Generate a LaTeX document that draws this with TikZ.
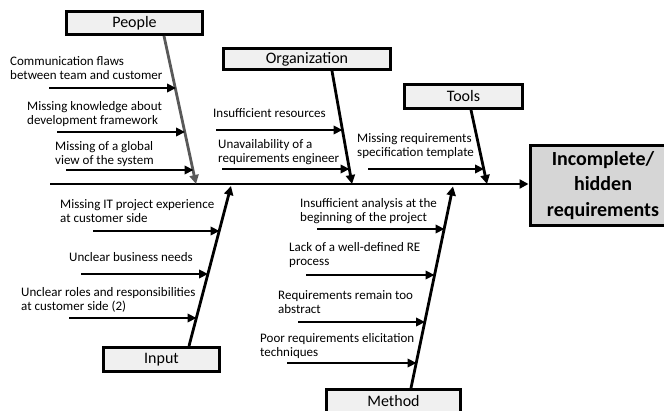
\documentclass[tikz,border=0pt]{standalone}
\usepackage{fontspec}
\setmainfont{Carlito}
\usetikzlibrary{arrows.meta}
\begin{document}
\begin{tikzpicture}
[x=1pt,y=-1pt,
 catbox/.style={draw,line width=3pt,fill=black!6,inner sep=0pt,font=\fontsize{16}{19}\selectfont},
 effect/.style={draw,line width=3pt,fill=black!16,align=center,inner sep=0pt,minimum width=146pt,minimum height=80pt,font=\fontsize{20}{25.5}\selectfont\bfseries},
 bone/.style={line width=2.8pt,-{Triangle[length=9pt,width=9pt]}},
 cause/.style={line width=2.8pt,-{Triangle[length=9pt,width=8.5pt]}},
 causetext/.style={anchor=north west,inner sep=0pt,align=left,font=\fontsize{13}{14}\selectfont}]
\useasboundingbox (0,0) rectangle (664,411);
% category boxes and effect
\node[catbox,minimum width=136pt,minimum height=23pt] (people) at (134.5,23) {People};
\node[catbox,minimum width=167pt,minimum height=21pt] (org) at (307,59) {Organization};
\node[catbox,minimum width=118pt,minimum height=24pt] (tools) at (463.5,96.5) {Tools};
\node[catbox,minimum width=116pt,minimum height=24pt] (input) at (161.5,359.5) {Input};
\node[catbox,minimum width=134pt,minimum height=24pt] (method) at (393.5,401.5) {Method};
\node[effect] (effect) at (603,185.5) {Incomplete/\\hidden\\requirements};
% spine
\coordinate (tail) at (50,184);
\draw[bone] (tail) -- (tail -| effect.west);
% bones
\coordinate (pTop) at ([xshift=29.5pt]people.south);
\coordinate (oTop) at ([xshift=25pt]org.south);
\coordinate (tTop) at ([xshift=7.5pt]tools.south);
\coordinate (iBot) at ([xshift=27.5pt]input.north);
\coordinate (mBot) at ([xshift=17.5pt]method.north);
\coordinate (pHead) at (196,184);
\coordinate (oHead) at (352,184);
\coordinate (tHead) at (487,184);
\coordinate (iHead) at (231,186);
\coordinate (mHead) at (453,186.5);
\draw[bone,black!65] (pTop) -- (pHead);
\foreach \from/\to in {oTop/oHead,tTop/tHead,iBot/iHead,mBot/mHead}
\draw[bone] (\from) -- (\to);
% causes
\node[causetext] (c1) at (10,56) {Communication flaws\\between team and customer};
\node[causetext] (c2) at (27,101) {Missing knowledge about\\development framework};
\node[causetext] (c3) at (55,141) {Missing of a global\\view of the system};
\node[causetext] (o1) at (213,108) {Insufficient resources};
\node[causetext] (o2) at (218,139) {Unavailability of a\\requirements engineer};
\node[causetext] (t1) at (357,133) {Missing requirements\\specification template};
\node[causetext] (i1) at (60,199) {Missing IT project experience\\at customer side};
\node[causetext] (i2) at (69,252) {Unclear business needs};
\node[causetext] (i3) at (21,287) {Unclear roles and responsibilities\\at customer side (2)};
\node[causetext] (m1) at (300,198) {Insufficient analysis at the\\beginning of the project};
\node[causetext] (m2) at (289,242) {Lack of a well-defined RE\\process};
\node[causetext] (m3) at (278,290) {Requirements remain too\\abstract};
\node[causetext] (m4) at (260,333) {Poor requirements elicitation\\techniques};
\foreach \n/\x/\y in {c1s/49/88,c1e/176/88,c2s/57/132,c2e/185/132,c3s/66/170,c3e/193.5/170,
  o1s/216/130,o1e/342.5/130,o2s/222/169,o2e/349.5/169,t1s/368/169,t1e/484/169,
  i1s/93/231,i1e/219.5/231,i2s/81/274,i2e/208/274,i3s/69/318,i3e/196.5/318,
  m1s/317/229,m1e/444.5/229,m2s/306/275,m2e/434.5/275,m3s/298/322,m3e/425/322,m4s/287/363,m4e/416.5/363}
\coordinate (\n) at (\x,\y);
\foreach \from/\to in {c1s/c1e,c2s/c2e,c3s/c3e,o1s/o1e,o2s/o2e,t1s/t1e,i1s/i1e,i2s/i2e,i3s/i3e,m1s/m1e,m2s/m2e,m3s/m3e,m4s/m4e}
\draw[cause] (\from) -- (\to);
\end{tikzpicture}
\end{document}
